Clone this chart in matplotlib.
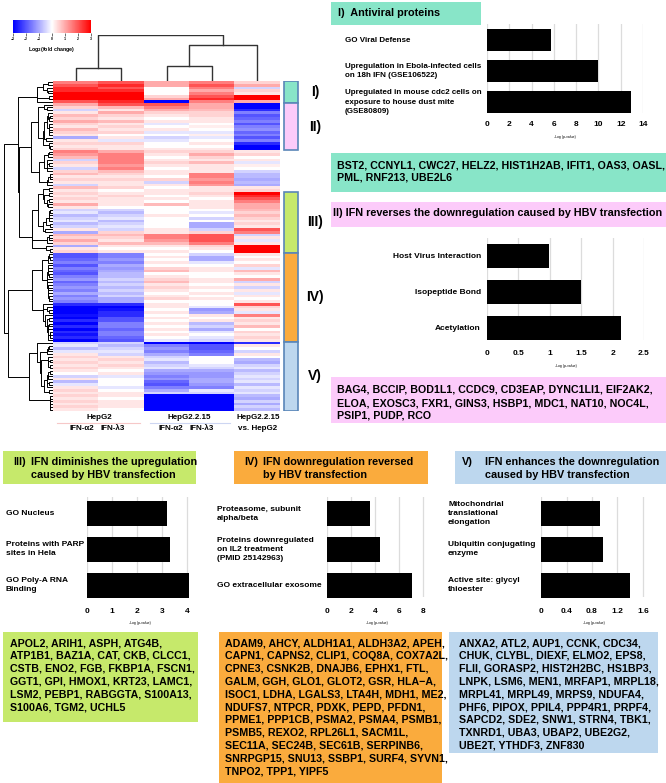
import numpy as np
import matplotlib
matplotlib.use('Agg')
import matplotlib.pyplot as plt
from matplotlib.patches import Rectangle
from matplotlib.lines import Line2D
from matplotlib.transforms import blended_transform_factory

plt.rcParams['font.family'] = ['Liberation Sans', 'DejaVu Sans']
plt.rcParams['font.weight'] = 'bold'

# ---- heatmap values, log2 fold change, one row per gene (cols: HepG2 a2, HepG2 l3, HepG2.2.15 a2, HepG2.2.15 l3, HepG2.2.15 vs HepG2)
cluster_I = [
    [1.5, 2.0, 1.0, 1.5, 0.5],
    [2.0, 2.5, 1.0, 2.0, 1.0],
    [2.5, 2.0, 0.0, 1.5, -0.5],
    [2.5, 2.5, 0.0, 1.0, 0.5],
    [3.0, 3.0, 0.0, 1.5, 0.3],
    [3.0, 3.0, 0.5, 2.0, 3.0],
    [3.0, 3.0, 1.0, 2.5, 3.0],
    [2.0, 2.5, -3.0, 1.5, 1.0],
]
cluster_II = [
    [1.0, 2.0, 2.0, 1.0, -3.0],
    [0.5, 0.8, 1.5, 1.0, -3.0],
    [-0.5, 0.3, 1.0, 0.8, -2.5],
    [0.3, 1.0, 0.5, 0.5, -1.5],
    [0.8, 0.5, 0.3, 0.5, -2.0],
    [0.5, 0.3, 0.0, 0.3, -1.8],
    [1.0, 0.8, 0.3, 0.3, -1.5],
    [0.5, 0.3, -0.3, 0.0, -2.0],
    [0.3, 0.5, 0.0, 0.2, -1.5],
    [0.8, 0.3, 0.3, 0.0, -1.3],
    [0.5, 0.5, -0.3, -0.3, -1.8],
    [0.3, 0.0, 0.0, 0.2, -1.5],
    [-1.0, 0.3, -0.5, -0.3, -2.0],
    [0.3, -0.3, -0.3, 0.0, -1.5],
    [0.5, 0.5, 0.0, 0.3, -2.5],
    [0.3, 0.3, 0.0, 0.0, -3.0],
    [0.5, 0.3, 0.3, 0.3, -3.0],
]
cluster_other = [
    [1.5, 1.0, 0.5, 0.5, 0.3],
    [1.2, 1.5, 0.3, 1.0, 0.5],
    [0.8, 1.5, 0.0, 0.5, 0.0],
    [-0.5, 1.5, 0.3, 0.3, 0.3],
    [0.5, 1.5, 0.5, 0.8, -0.3],
    [0.3, 1.2, 0.3, 0.3, 0.2],
    [-0.5, 1.5, 0.0, 0.3, 0.0],
    [0.5, 0.8, 0.3, 0.3, -0.5],
    [0.8, 0.5, 0.3, 1.5, -0.8],
    [0.3, 0.3, 0.0, 1.5, -0.8],
    [0.5, 0.5, 0.5, 1.2, -1.0],
    [0.3, 0.3, -0.5, 1.5, -0.8],
    [-0.5, 0.3, 0.3, 1.2, -1.0],
    [0.8, 0.5, 0.0, 0.3, 0.3],
    [0.3, 0.0, 0.3, 0.3, 0.5],
]
cluster_III = [
    [0.5, 0.3, 0.3, 0.5, 3.0],
    [0.3, 0.5, 0.0, 0.3, 2.5],
    [0.5, 0.3, 0.3, 0.0, 2.0],
    [0.3, 0.3, 0.0, 0.3, 1.5],
    [1.0, 0.3, 0.8, 0.3, 1.0],
    [0.3, 0.0, 0.0, 0.3, 1.0],
    [-0.5, -0.5, 0.0, 0.0, 0.8],
    [-0.3, -0.8, 0.0, -0.3, 0.5],
    [-0.8, -0.5, 0.3, 0.0, 0.8],
    [-0.5, -0.3, 0.0, -0.5, 0.5],
    [-0.3, -0.8, 0.0, 0.0, 0.3],
    [-0.8, -0.5, 0.0, -1.0, 0.5],
    [-0.5, -0.3, 0.0, -1.0, 0.3],
    [0.3, -0.5, 0.3, -0.5, 2.0],
    [-1.0, 0.5, 0.3, 0.5, 1.5],
    [0.8, 0.8, 1.5, 2.0, -0.5],
    [0.5, 0.5, 1.5, 2.0, 0.3],
    [1.0, 0.3, 1.2, 2.0, -0.3],
    [0.5, 0.8, 0.8, 1.5, 0.3],
    [-1.0, 0.3, 0.3, 0.5, 3.0],
    [0.3, 0.0, 0.0, 0.3, 3.0],
    [0.5, 0.3, 0.3, 0.0, 3.0],
]
cluster_IV = [
    [-2.0, -1.5, 0.0, -0.5, 0.3],
    [-2.0, -1.5, 0.3, -1.0, 0.0],
    [-1.8, -1.2, 0.0, -1.0, 0.3],
    [-1.5, -1.5, 0.3, -0.3, 0.0],
    [-2.0, -1.0, 0.0, 0.0, 0.5],
    [-1.5, -1.2, 0.5, 0.3, -0.3],
    [-1.8, -1.0, 0.8, 0.3, 0.8],
    [-2.0, -0.8, 0.0, 0.0, 0.3],
    [-1.5, -0.8, 0.3, 0.0, 0.0],
    [-1.2, -0.5, 0.5, 0.3, 1.0],
    [-1.8, -0.8, 0.8, 0.3, -0.5],
    [-1.5, -0.5, 0.3, 0.0, 0.3],
    [-1.2, -0.8, 0.5, 0.3, -0.5],
    [-1.5, -0.5, 0.3, 0.0, 0.3],
    [-1.0, -0.8, 0.0, 0.3, -0.3],
    [-1.5, -0.5, 0.3, 0.0, 0.3],
    [-1.2, -1.0, 0.5, 0.3, 0.0],
    [-1.5, -1.0, 0.0, 0.0, 0.3],
    [-2.5, -2.5, 0.3, 0.0, 2.0],
    [-3.0, -3.0, 0.3, -0.3, 0.5],
    [-3.0, -2.8, 0.0, -1.2, 0.3],
    [-3.0, -2.5, 0.3, -1.0, -0.3],
    [-2.8, -2.5, 0.0, 0.3, 1.5],
    [-3.0, -2.0, 0.3, 0.0, 0.3],
    [-2.5, -2.0, 0.0, 0.3, 0.5],
    [-3.0, -1.5, 0.3, -0.8, 0.3],
    [-2.5, -1.5, 0.0, -0.5, 0.8],
    [-3.0, -1.8, 0.3, -1.0, 0.0],
    [-2.5, -1.5, 0.0, -0.3, 0.5],
    [-2.8, -1.5, 0.3, 0.0, 0.3],
    [-2.5, -1.8, 0.0, -0.3, 0.5],
    [-3.0, -2.0, -0.3, -0.5, 0.3],
]
cluster_V = [
    [-0.5, -0.5, -3.0, -3.0, -2.5],
    [-0.3, -0.8, -1.5, -2.0, 0.3],
    [-0.8, -0.5, -1.2, -2.0, 0.0],
    [-0.3, -0.3, -1.5, -1.8, -0.5],
    [0.3, -0.5, -1.0, -1.5, 0.3],
    [0.5, 0.3, -0.5, 0.0, 0.0],
    [0.3, 0.5, -0.3, 0.0, -0.8],
    [0.5, 0.3, -0.8, 0.0, -1.0],
    [0.3, 0.5, -0.5, -0.3, -0.5],
    [0.5, 0.3, -0.3, -0.5, -0.3],
    [0.3, 0.0, -1.0, -1.0, -0.8],
    [0.0, 0.3, -1.2, -1.2, -0.5],
    [-0.5, -0.3, -1.5, -1.2, -0.3],
    [0.3, 0.0, -1.2, -1.0, -0.5],
    [-0.8, 0.0, -1.8, -1.0, -0.3],
    [-0.3, 0.0, -2.0, -1.2, -0.8],
    [0.3, -0.3, -1.5, -1.5, -0.3],
    [0.5, 0.0, -1.0, -0.3, -0.5],
    [0.3, 0.3, -0.5, -0.5, -0.3],
    [0.5, 0.3, -3.0, -3.0, -0.8],
    [0.3, 0.0, -3.0, -3.0, -1.0],
    [0.5, 0.3, -3.0, -3.0, -0.5],
    [0.3, 0.3, -3.0, -3.0, -1.0],
    [0.5, 0.3, -3.0, -3.0, -0.5],
    [0.3, 0.0, -3.0, -3.0, -0.8],
]
cluster_names = ['I)', 'II)', None, 'III)', 'IV)', 'V)']
cluster_colors = ['#88e5c8', '#fccbfa', None, '#c6e96b', '#faab3d', '#bdd7ee']

# ---- enrichment bars
terms_I = ['GO Viral Defense', 'Upregulation in Ebola-infected cells\non 18h IFN (GSE106522)',
           'Upregulated in mouse cdc2 cells on\nexposure to house dust mite\n(GSE80809)']
logp_I = [5.7, 10.0, 12.9]
terms_II = ['Host Virus Interaction', 'Isopeptide Bond', 'Acetylation']
logp_II = [0.99, 1.5, 2.14]
terms_III = ['GO Nucleus', 'Proteins with PARP\nsites in Hela', 'GO Poly-A RNA\nBinding']
logp_III = [3.2, 3.32, 4.08]
terms_IV = ['Proteasome, subunit\nalpha/beta', 'Proteins downregulated\non IL2 treatment\n(PMID 25142963)',
            'GO extracellular exosome']
logp_IV = [3.6, 4.4, 7.1]
terms_V = ['Mitochondrial\ntranslational\nelongation', 'Ubiquitin conjugating\nenzyme', 'Active site: glycyl\nthioester']
logp_V = [0.93, 0.98, 1.40]

genes_I = ['BST2, CCNYL1, CWC27, HELZ2, HIST1H2AB, IFIT1, OAS3, OASL,',
           'PML, RNF213, UBE2L6']
genes_II = ['BAG4, BCCIP, BOD1L1, CCDC9, CD3EAP, DYNC1LI1, EIF2AK2,',
            'ELOA, EXOSC3, FXR1, GINS3, HSBP1, MDC1, NAT10, NOC4L,',
            'PSIP1, PUDP, RCO']
genes_III = ['APOL2, ARIH1, ASPH, ATG4B,', 'ATP1B1, BAZ1A, CAT, CKB, CLCC1,',
             'CSTB, ENO2, FGB, FKBP1A, FSCN1,', 'GGT1, GPI, HMOX1, KRT23, LAMC1,',
             'LSM2, PEBP1, RABGGTA, S100A13,', 'S100A6, TGM2, UCHL5']
genes_IV = ['ADAM9, AHCY, ALDH1A1, ALDH3A2, APEH,', 'CAPN1, CAPNS2, CLIP1, COQ8A, COX7A2L,',
            'CPNE3, CSNK2B, DNAJB6, EPHX1, FTL,', 'GALM, GGH, GLO1, GLOT2, GSR, HLA\u2212A,',
            'ISOC1, LDHA, LGALS3, LTA4H, MDH1, ME2,', 'NDUFS7, NTPCR, PDXK, PEPD, PFDN1,',
            'PPME1, PPP1CB, PSMA2, PSMA4, PSMB1,', 'PSMB5, REXO2, RPL26L1, SACM1L,',
            'SEC11A, SEC24B, SEC61B, SERPINB6,', 'SNRPGP15, SNU13, SSBP1, SURF4, SYVN1,',
            'TNPO2, TPP1, YIPF5']
genes_V = ['ANXA2, ATL2, AUP1, CCNK, CDC34,', 'CHUK, CLYBL, DIEXF, ELMO2, EPS8,',
           'FLII, GORASP2, HIST2H2BC, HS1BP3,', 'LNPK, LSM6, MEN1, MRFAP1, MRPL18,',
           'MRPL41, MRPL49, MRPS9, NDUFA4,', 'PHF6, PIPOX, PPIL4, PPP4R1, PRPF4,',
           'SAPCD2, SDE2, SNW1, STRN4, TBK1,', 'TXNRD1, UBA3, UBAP2, UBE2G2,',
           'UBE2T, YTHDF3, ZNF830']

W, H = 666, 783
fig = plt.figure(figsize=(W / 100, H / 100), dpi=100)


def box(x0, y0, x1, y1):
    return [x0 / W, 1 - y1 / H, (x1 - x0) / W, (y1 - y0) / H]


def txt(x, y, s, size, ha='left', **kw):
    fig.text(x / W, 1 - y / H, s, fontsize=size, ha=ha, va='center', fontweight='bold', **kw)


def panel(x0, y0, x1, y1, color):
    fig.add_artist(Rectangle((x0 / W, 1 - y1 / H), (x1 - x0) / W, (y1 - y0) / H,
                             transform=fig.transFigure, facecolor=color, edgecolor='none', zorder=0))


def ordered_linkage(M):
    # agglomerative clustering (ward distance) that only joins neighbours, so the row order is kept
    nodes = [dict(pos=i + 0.5, h=0.0, c=np.array(M[i], float), n=1) for i in range(len(M))]
    links = []
    while len(nodes) > 1:
        best = None
        for i in range(len(nodes) - 1):
            a, b = nodes[i], nodes[i + 1]
            d = np.sqrt(2 * a['n'] * b['n'] / (a['n'] + b['n'])) * np.linalg.norm(a['c'] - b['c'])
            if best is None or d < best[0]:
                best = (d, i)
        d, i = best
        a, b = nodes[i], nodes[i + 1]
        h = max(d, a['h'], b['h'])
        n = a['n'] + b['n']
        links.append((a['pos'], a['h'], b['pos'], b['h'], h))
        nodes[i:i + 2] = [dict(pos=(a['pos'] + b['pos']) / 2, h=h, c=(a['c'] * a['n'] + b['c'] * b['n']) / n, n=n)]
    return links


clusters = [cluster_I, cluster_II, cluster_other, cluster_III, cluster_IV, cluster_V]
data = np.vstack([np.array(c) for c in clusters])
nrow, ncol = data.shape

# heatmap
hx0, hy0, hx1, hy1 = 53, 81, 280, 411
ax_h = fig.add_axes(box(hx0, hy0, hx1, hy1))
im = ax_h.imshow(data, cmap='bwr', vmin=-3, vmax=3, aspect='auto', interpolation='nearest',
                 extent=(0, ncol, nrow, 0))
ax_h.axis('off')

# row dendrogram
ax_rd = fig.add_axes(box(4, hy0, hx0, hy1))
rl = ordered_linkage(data)
hmax = max(l[4] for l in rl)
f = lambda h: (h / hmax) ** 0.75
for p1, h1, p2, h2, h in rl:
    ax_rd.plot([f(h1), f(h), f(h), f(h2)], [p1, p1, p2, p2], color='black', lw=0.7, solid_capstyle='butt')
ax_rd.set_xlim(1, 0)
ax_rd.set_ylim(nrow, 0)
ax_rd.axis('off')

# column dendrogram
ax_cd = fig.add_axes(box(hx0, 35, hx1, hy0))
cl = ordered_linkage(data.T)
cmax = max(l[4] for l in cl)
for p1, h1, p2, h2, h in cl:
    ax_cd.plot([p1, p1, p2, p2], [h1 / cmax, h / cmax, h / cmax, h2 / cmax], color='#333333', lw=1.0)
ax_cd.set_xlim(0, ncol)
ax_cd.set_ylim(0, 1)
ax_cd.axis('off')

# cluster side bars
ax_s = fig.add_axes(box(283, hy0, 299, hy1))
ax_s.set_xlim(0, 1)
ax_s.set_ylim(nrow, 0)
ax_s.axis('off')
start = 0
for c, name, col in zip(clusters, cluster_names, cluster_colors):
    if name is not None:
        ax_s.add_patch(Rectangle((0.05, start), 0.9, len(c), facecolor=col, edgecolor='#5a86b8', lw=1.2))
        ax_s.text(2.0, start + len(c) / 2, name, ha='center', va='center', fontsize=10, fontweight='bold',
                  clip_on=False)
    start += len(c)

# colour key
cax = fig.add_axes(box(13, 20, 91, 33))
cb = fig.colorbar(im, cax=cax, orientation='horizontal', ticks=[-3, -2, -1, 0, 1, 2, 3])
cb.outline.set_visible(False)
cb.ax.tick_params(labelsize=2.5, length=2, width=0.4, pad=1)
txt(52, 49, r'Log$_\mathbf{2}$(fold change)', 3.8, ha='center')

# column labels
txt(99, 417, 'HepG2', 5.8, ha='center')
txt(82, 428, 'IFN-\u03b12', 5.8, ha='center')
txt(113, 428, 'IFN-\u03bb3', 5.8, ha='center')
txt(189, 417, 'HepG2.2.15', 5.8, ha='center')
txt(171, 428, 'IFN-\u03b12', 5.8, ha='center')
txt(202, 428, 'IFN-\u03bb3', 5.8, ha='center')
txt(258, 417, 'HepG2.2.15', 5.8, ha='center')
txt(258, 428, 'vs. HepG2', 5.8, ha='center')
fig.add_artist(Line2D([57 / W, 140 / W], [1 - 423 / H] * 2, color='#f6c8c8', lw=0.8))
fig.add_artist(Line2D([150 / W, 230 / W], [1 - 423 / H] * 2, color='#cdd6f2', lw=0.8))


def bar_panel(x0, y0, x1, y1, xmax, ticks, ticklabels, terms, values, ylim, bh, lab_x, lab_ha, tickpad, lblpad,
              lab_size=6):
    ax = fig.add_axes(box(x0, y0, x1, y1))
    ax.patch.set_visible(False)
    ax.barh(np.arange(len(values)), values, height=bh, color='black', zorder=3, clip_on=False)
    ax.set_xlim(0, xmax)
    ax.set_ylim(*ylim)
    ax.set_xticks(ticks)
    ax.set_xticklabels(ticklabels, fontsize=6, fontweight='bold')
    ax.set_yticks([])
    ax.grid(axis='x', color='#dcdcdc', lw=0.9)
    ax.set_axisbelow(True)
    for s in ax.spines.values():
        s.set_visible(False)
    ax.tick_params(axis='x', length=0, pad=tickpad)
    ax.set_xlabel('-Log (p-value)', fontsize=2.5, labelpad=lblpad)
    tr = blended_transform_factory(fig.transFigure, ax.transData)
    for i, t in enumerate(terms):
        ax.text(lab_x / W, i, t, transform=tr, ha=lab_ha, va='center', fontsize=lab_size, fontweight='bold',
                linespacing=1.45)
    return ax


# panel I
panel(331, 2, 481, 25, '#88e5c8')
txt(338, 13.5, 'I)  Antiviral proteins', 7.8)
bar_panel(487, 24, 643, 113, 14, range(0, 15, 2), [str(v) for v in range(0, 15, 2)], terms_I, logp_I,
          (2.35, -0.52), 0.71, 345, 'left', 6, 5, lab_size=5.8)
panel(331, 153, 666, 192, '#88e5c8')
for i, line in enumerate(genes_I):
    txt(337, 165 + i * 13, line, 7.65)

# panel II
panel(331, 202, 666, 227, '#fccbfa')
txt(498, 213, 'II) IFN reverses the downregulation caused by HBV transfection', 7.8, ha='center')
bar_panel(487, 238, 644, 340, 2.5, [0, 0.5, 1, 1.5, 2, 2.5], ['0', '0.5', '1', '1.5', '2', '2.5'],
          terms_II, logp_II, (2.33, -0.5), 0.67, 481, 'right', 7, 5)
panel(331, 377, 666, 423, '#fccbfa')
for i, line in enumerate(genes_II):
    txt(337, 390 + i * 13, line, 7.65)

# bottom row panels
bottom = [
    (3, 196, '#c6e96b', 'III)', 13, 31, 'IFN diminishes the upregulation', 'caused by HBV transfection',
     87, 4.2, [0, 1, 2, 3, 4], ['0', '1', '2', '3', '4'], 25.0, terms_III, logp_III, 6,
     3, 198, 722, genes_III, 10),
    (234, 428, '#faab3d', 'IV)', 244, 263, 'IFN downregulation reversed', 'by HBV transfection',
     327, 8.3, [0, 2, 4, 6, 8], ['0', '2', '4', '6', '8'], 12.0, terms_IV, logp_IV, 217,
     219, 442, 783, genes_IV, 225),
    (455, 666, '#bdd7ee', 'V)', 462, 485, 'IFN enhances the downregulation', 'caused by HBV transfection',
     541, 1.65, [0, 0.4, 0.8, 1.2, 1.6], ['0', '0.4', '0.8', '1.2', '1.6'], 63.75, terms_V, logp_V, 448,
     449, 658, 753, genes_V, 459),
]
for (bx0, bx1, col, num, nx, tx, l1, l2, ax0, xmax, ticks, tlabs, scale, terms, vals, labx,
     gx0, gx1, gy1, genes, gtx) in bottom:
    panel(bx0, 451, bx1, 484, col)
    txt(nx, 462, num, 7.8)
    txt(tx, 462, l1, 7.8)
    txt(tx, 475, l2, 7.8)
    bar_panel(ax0, 497, ax0 + xmax * scale, 597, xmax, ticks, tlabs, terms, vals, (2.33, -0.46), 0.69,
              labx, 'left', 8, 4)
    panel(gx0, 632, gx1, gy1, col)
    for i, line in enumerate(genes):
        txt(gtx, 643 + i * 12.8, line, 7.65)

fig.savefig('out.png', dpi=100)
